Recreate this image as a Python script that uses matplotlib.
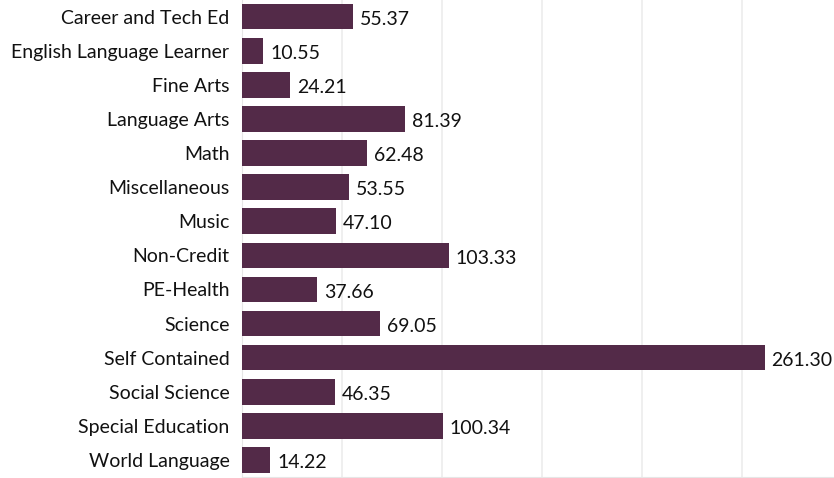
import matplotlib.pyplot as plt

# valors per assignatura
subjects = ['Career and Tech Ed', 'English Language Learner', 'Fine Arts', 'Language Arts',
            'Math', 'Miscellaneous', 'Music', 'Non-Credit', 'PE-Health', 'Science',
            'Self Contained', 'Social Science', 'Special Education', 'World Language']
values = [55.37, 10.55, 24.21, 81.39, 62.48, 53.55, 47.10, 103.33, 37.66, 69.05,
          261.30, 46.35, 100.34, 14.22]

bar_color = '#532a48'
plt.rcParams['font.family'] = ['Lato', 'DejaVu Sans']

fig = plt.figure(figsize=(8.34, 4.78), dpi=100)
ax = fig.add_axes([242 / 834, 1 / 478, 600 / 834, 477.4 / 478])

ypos = list(range(len(subjects)))
ax.barh(ypos, values, height=0.75, color=bar_color, zorder=3)

for y, v in zip(ypos, values):
    ax.text(v + 3.5, y + 0.08, f'{v:.2f}', va='center', ha='left', fontsize=14, color='#111111')

ax.set_yticks(ypos)
ax.set_yticklabels(subjects, fontsize=14, color='#111111')
ax.set_ylim(len(subjects) - 0.5, -0.5)
ax.set_xlim(0, 300)
ax.set_xticks([0, 50, 100, 150, 200, 250, 300])
ax.tick_params(axis='x', bottom=False, labelbottom=False)
ax.tick_params(axis='y', length=0, pad=9)
ax.grid(axis='x', color='#ececec', linewidth=1.2, zorder=0)

for s in ['top', 'right']:
    ax.spines[s].set_visible(False)
ax.spines['left'].set_color('#e6e6e6')
ax.spines['bottom'].set_color('#e6e6e6')

fig.savefig('out.png', dpi=100)
